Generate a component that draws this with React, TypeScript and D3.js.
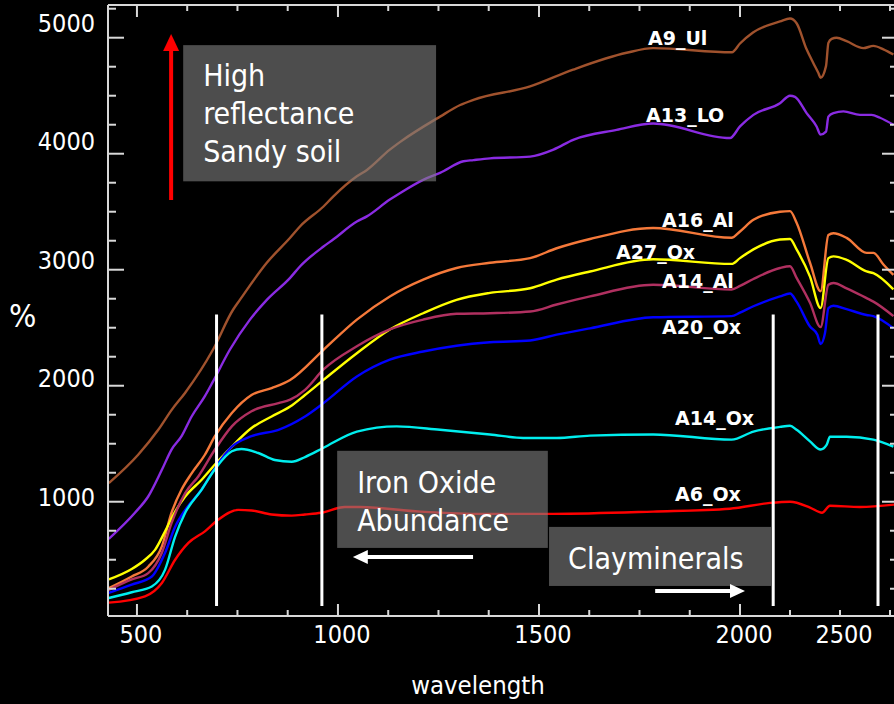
import React from 'react';
import * as d3 from 'd3';

// ---------- data (wavelength nm, reflectance value) ----------
const A9_Ul: [number, number][] = [[430,1160],[503,1405],[553,1620],[586,1790],[620,1940],[689,2310],[739,2655],[756,2740],[823,3060],[881,3275],[906,3375],[964,3545],[988,3630],[1047,3805],[1072,3860],[1129,4035],[1154,4100],[1254,4320],[1304,4420],[1337,4465],[1478,4580],[1585,4725],[1718,4870],[1784,4910],[1980,4875],[2000,4950],[2065,5045],[2200,5140],[2250,5165],[2283,5125],[2333,4900],[2367,4780],[2392,4695],[2403,4655],[2430,4755],[2442,4955],[2458,4990],[2483,5000],[2533,4970],[2617,4910],[2667,4930],[2717,4900],[2767,4855]];
const A13_LO: [number, number][] = [[430,680],[495,905],[528,1045],[562,1275],[586,1450],[611,1565],[636,1735],[669,1910],[689,2035],[731,2310],[781,2570],[823,2740],[881,2930],[906,3030],[964,3200],[988,3260],[1047,3415],[1072,3460],[1129,3605],[1154,3660],[1212,3775],[1254,3835],[1312,3935],[1337,3945],[1378,3960],[1478,3975],[1536,4035],[1585,4120],[1693,4205],[1784,4260],[1975,4135],[2000,4235],[2067,4335],[2200,4435],[2250,4500],[2275,4490],[2333,4350],[2383,4235],[2403,4165],[2430,4190],[2442,4320],[2467,4350],[2517,4365],[2600,4335],[2658,4335],[2700,4310],[2767,4250]];
const A16_Al: [number, number][] = [[430,255],[487,355],[528,440],[562,615],[586,905],[611,1105],[636,1245],[669,1405],[694,1565],[736,1765],[785,1920],[835,1980],[881,2050],[964,2310],[1047,2570],[1129,2770],[1212,2915],[1295,3015],[1378,3060],[1478,3100],[1544,3185],[1627,3265],[1784,3360],[1979,3275],[2000,3330],[2067,3430],[2200,3500],[2250,3505],[2283,3405],[2350,3060],[2403,2815],[2442,3300],[2467,3315],[2533,3275],[2633,3145],[2667,3145],[2717,3045],[2767,2955]];
const A27_Ox: [number, number][] = [[430,330],[487,420],[520,500],[545,585],[570,745],[595,915],[620,1045],[661,1190],[694,1320],[736,1475],[785,1635],[835,1735],[881,1820],[918,1920],[964,2050],[1047,2280],[1129,2485],[1212,2625],[1295,2740],[1378,2800],[1478,2840],[1544,2915],[1627,2985],[1784,3090],[1979,3050],[2000,3100],[2067,3175],[2200,3260],[2250,3265],[2283,3175],[2350,2940],[2403,2670],[2442,3100],[2467,3115],[2533,3085],[2633,2985],[2667,2970],[2767,2830]];
const A14_Al: [number, number][] = [[430,240],[487,330],[528,385],[562,560],[586,815],[620,1075],[653,1220],[694,1450],[736,1650],[785,1780],[852,1850],[881,1880],[918,1965],[964,2140],[1047,2340],[1129,2485],[1212,2570],[1295,2620],[1378,2625],[1478,2640],[1544,2700],[1627,2770],[1784,2870],[1979,2830],[2000,2860],[2067,2920],[2200,3015],[2250,3030],[2283,2930],[2350,2715],[2403,2505],[2442,2870],[2467,2885],[2533,2840],[2633,2755],[2667,2725],[2767,2600]];
const A20_Ox: [number, number][] = [[430,215],[487,285],[537,355],[570,560],[595,785],[620,930],[661,1105],[694,1290],[736,1475],[785,1565],[852,1620],[918,1735],[964,1850],[1047,2080],[1129,2225],[1212,2295],[1295,2345],[1378,2375],[1478,2390],[1544,2440],[1627,2495],[1784,2590],[1979,2600],[2000,2630],[2067,2685],[2200,2770],[2250,2795],[2283,2725],[2350,2510],[2387,2440],[2403,2360],[2425,2455],[2442,2670],[2467,2690],[2533,2660],[2633,2610],[2667,2600],[2767,2495]];
const A14_Ox: [number, number][] = [[430,170],[487,220],[537,270],[570,415],[595,700],[620,905],[661,1105],[694,1280],[736,1435],[760,1455],[802,1420],[843,1360],[885,1345],[918,1385],[964,1465],[1047,1605],[1146,1650],[1254,1620],[1378,1580],[1461,1550],[1544,1550],[1627,1570],[1784,1580],[1979,1535],[2067,1605],[2200,1645],[2250,1655],[2283,1620],[2350,1520],[2403,1450],[2433,1490],[2450,1560],[2533,1560],[2667,1535],[2767,1475]];
const A6_Ox: [number, number][] = [[430,130],[520,185],[562,300],[595,500],[628,645],[669,745],[702,845],[752,930],[785,925],[835,890],[885,880],[918,890],[958,905],[1017,955],[1055,955],[1204,915],[1371,895],[1535,895],[1784,915],[1975,940],[2150,990],[2250,1000],[2350,950],[2410,905],[2450,965],[2600,955],[2770,975]];

const SERIES_NAMES = ['A9_Ul', 'A13_LO', 'A16_Al', 'A27_Ox', 'A14_Al', 'A20_Ox', 'A14_Ox', 'A6_Ox'];
const SERIES_DATA = [A9_Ul, A13_LO, A16_Al, A27_Ox, A14_Al, A20_Ox, A14_Ox, A6_Ox];

const X_TICK_LABELS = [500, 1000, 1500, 2000, 2500];
const X_MAJOR = [500, 1000, 1500, 2000];
const X_MINOR = [625, 750, 875, 1125, 1250, 1375, 1625, 1750, 1875, 2250, 2500, 2750];
const Y_TICK_LABELS = [1000, 2000, 3000, 4000, 5000];
const Y_MINOR = [250, 500, 750, 1250, 1500, 1750, 2250, 2500, 2750, 3250, 3500, 3750, 4250, 4500, 4750, 5250];

// band marker lines (wavelength) and their value extent
const BAND_LINES = [698, 960, 2166, 2690];
const BAND_RANGE = [101, 2614];

// ---------- layout / style ----------
const W = 894, H = 704;
const COLORS = ['#a0522d', '#8a2be2', '#f5793a', '#ffff00', '#b03060', '#0000ff', '#00eeee', '#ff0000'];
const LABEL_POS: [number, number][] = [[648, 45], [646, 122], [662, 227], [616, 259], [662, 288], [662, 334], [675, 425], [675, 501]];
const FONT = "'DejaVu Sans Condensed', 'DejaVu Sans', sans-serif";
const BOLD = "'DejaVu Sans', sans-serif";
const AXIS = '#d8d8d8';

export default function App() {
  const x = d3.scaleLinear().domain([428, 2000, 2790]).range([108, 740, 898]);
  const y = d3.scaleLinear().domain([15, 5282]).range([616, 5]);
  const line = d3.line<[number, number]>().x(d => x(d[0])).y(d => y(d[1])).curve(d3.curveMonotoneX);

  const left = 108, right = 898, top = 5, bottom = 616;

  const box = (w0: number, w1: number, v0: number, v1: number) => ({
    x: x(w0), y: y(v0), w: x(w1) - x(w0), h: y(v1) - y(v0),
  });
  const b1 = box(615, 1244, 4936, 3762);
  const b2 = box(998, 1522, 1439, 602);
  const b3 = box(1525, 2155, 783, 274);

  const arrowUp = { x: x(585), y0: y(3600), y1: y(5031) };
  const arrowL = { y: y(524), x0: x(1336), x1: x(1037) };
  const arrowR = { y: y(231), x0: x(1789), x1: x(2025) };

  return (
    <svg width={W} height={H} style={{ position: 'absolute', left: 0, top: 0, display: 'block' }}>
      <rect x={0} y={0} width={W} height={H} fill="#000" />
      {/* series lines */}
      {SERIES_DATA.map((d, i) => (
        <path key={SERIES_NAMES[i]} d={line(d) || ''} fill="none" stroke={COLORS[i]} strokeWidth={2.4} strokeLinejoin="round" />
      ))}
      {/* band marker lines */}
      {BAND_LINES.map(b => (
        <line key={b} x1={x(b)} x2={x(b)} y1={y(BAND_RANGE[0])} y2={y(BAND_RANGE[1])} stroke="#fff" strokeWidth={3} />
      ))}
      {/* axes frame */}
      <g stroke={AXIS} strokeWidth={2}>
        <line x1={left} x2={left} y1={top} y2={bottom} />
        <line x1={left} x2={right} y1={top} y2={top} />
        <line x1={left} x2={right} y1={bottom} y2={bottom} />
        <line x1={right} x2={right} y1={top} y2={bottom} />
        {X_MAJOR.map(t => (
          <g key={'xm' + t}>
            <line x1={x(t)} x2={x(t)} y1={bottom} y2={bottom - 12} />
            <line x1={x(t)} x2={x(t)} y1={top} y2={top + 12} />
          </g>
        ))}
        {X_MINOR.map(t => (
          <g key={'xn' + t}>
            <line x1={x(t)} x2={x(t)} y1={bottom} y2={bottom - 6} />
            <line x1={x(t)} x2={x(t)} y1={top} y2={top + 6} />
          </g>
        ))}
        {Y_TICK_LABELS.map(t => (
          <g key={'ym' + t}>
            <line x1={left} x2={left + 16} y1={y(t)} y2={y(t)} />
            <line x1={right} x2={right - 16} y1={y(t)} y2={y(t)} />
          </g>
        ))}
        {Y_MINOR.map(t => (
          <g key={'yn' + t}>
            <line x1={left} x2={left + 8} y1={y(t)} y2={y(t)} />
            <line x1={right} x2={right - 8} y1={y(t)} y2={y(t)} />
          </g>
        ))}
      </g>
      {/* tick labels */}
      <g fill="#fff" fontFamily={FONT} fontSize={25}>
        {X_TICK_LABELS.map(t => (
          <text key={'xl' + t} x={x(t) + 4} y={643} textAnchor="middle">{t}</text>
        ))}
        {Y_TICK_LABELS.map(t => (
          <text key={'yl' + t} x={95} y={y(t) - (5 + (t - 1000) / 400)} dy="0.36em" textAnchor="end">{t}</text>
        ))}
        <text x={9} y={327} fontSize={32}>%</text>
        <text x={478} y={694} textAnchor="middle" fontSize={25.5}>wavelength</text>
      </g>
      {/* annotation boxes */}
      <g fill="#808080" fillOpacity={0.6}>
        <rect x={b1.x} y={b1.y} width={b1.w} height={b1.h} />
        <rect x={b2.x} y={b2.y} width={b2.w} height={b2.h} />
        <rect x={b3.x} y={b3.y} width={b3.w} height={b3.h} />
      </g>
      <g fill="#fff" fontFamily={FONT} fontSize={30}>
        <text x={b1.x + 20} y={b1.y + 41}>High</text>
        <text x={b1.x + 20} y={b1.y + 79}>reflectance</text>
        <text x={b1.x + 20} y={b1.y + 117}>Sandy soil</text>
        <text x={b2.x + 20} y={b2.y + 42}>Iron Oxide</text>
        <text x={b2.x + 20} y={b2.y + 80}>Abundance</text>
        <text x={b3.x + 19} y={b3.y + 42}>Clayminerals</text>
      </g>
      {/* arrows */}
      <line x1={arrowUp.x} x2={arrowUp.x} y1={arrowUp.y0} y2={arrowUp.y1 + 14} stroke="#ff0000" strokeWidth={4} />
      <path d={`M${arrowUp.x},${arrowUp.y1} L${arrowUp.x - 8},${arrowUp.y1 + 17} L${arrowUp.x + 8},${arrowUp.y1 + 17} Z`} fill="#ff0000" />
      <line x1={arrowL.x0} x2={arrowL.x1 + 12} y1={arrowL.y} y2={arrowL.y} stroke="#fff" strokeWidth={4} />
      <path d={`M${arrowL.x1},${arrowL.y} L${arrowL.x1 + 15},${arrowL.y - 7} L${arrowL.x1 + 15},${arrowL.y + 7} Z`} fill="#fff" />
      <line x1={arrowR.x0} x2={arrowR.x1 - 12} y1={arrowR.y} y2={arrowR.y} stroke="#fff" strokeWidth={4} />
      <path d={`M${arrowR.x1},${arrowR.y} L${arrowR.x1 - 15},${arrowR.y - 7} L${arrowR.x1 - 15},${arrowR.y + 7} Z`} fill="#fff" />
      {/* series labels */}
      <g fill="#fff" fontFamily={BOLD} fontWeight="bold" fontSize={19}>
        {SERIES_NAMES.map((n, i) => (
          <text key={'lb' + n} x={LABEL_POS[i][0]} y={LABEL_POS[i][1]}>{n}</text>
        ))}
      </g>
    </svg>
  );
}
